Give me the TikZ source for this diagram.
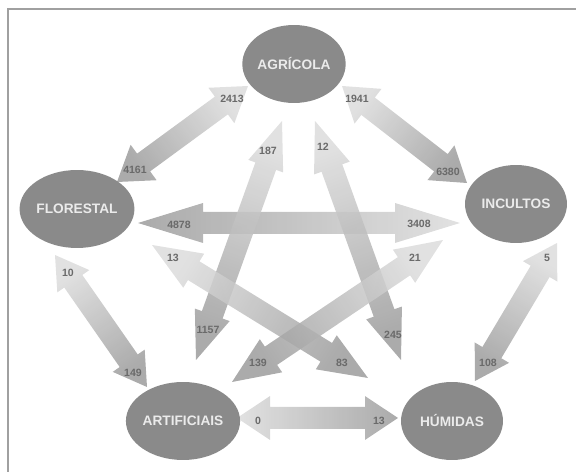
\documentclass[tikz,border=0pt]{standalone}
\usepackage{fontspec}
\setmainfont{Liberation Sans}
\usetikzlibrary{calc}
\usetikzlibrary{shapes.geometric}
\definecolor{cinzazona}{HTML}{8A8A8A}
\definecolor{fluxclaro}{HTML}{DCDCDC}
\definecolor{fluxescuro}{HTML}{9C9C9C}
\definecolor{cinzanum}{HTML}{6A6A6A}
\definecolor{cinzamoldura}{HTML}{A0A0A0}
% double arrow: light end, dark end, head length, head width (px)
\newcommand{\fluxo}[4]{%
  \pgfmathanglebetweenpoints{\pgfpointanchor{#1}{center}}{\pgfpointanchor{#2}{center}}%
  \pgfmathsetmacro{\fang}{\pgfmathresult-90}%
  \pgfmathsetlengthmacro{\hl}{#3*0.02cm}%
  \pgfmathsetlengthmacro{\hw}{#4*0.01cm}%
  \pgfmathsetlengthmacro{\sw}{11*0.02cm}%
  \shade[top color=fluxescuro, bottom color=fluxclaro, shading angle=\fang, fill opacity=0.85]
    (#1) -- ($(#1)!\hl!(#2)!\hw!90:(#2)$) -- ($(#1)!\hl!(#2)!\sw!90:(#2)$)
    -- ($(#2)!\hl!(#1)!\sw!-90:(#1)$) -- ($(#2)!\hl!(#1)!\hw!-90:(#1)$)
    -- (#2) -- ($(#2)!\hl!(#1)!\hw!90:(#1)$) -- ($(#2)!\hl!(#1)!\sw!90:(#1)$)
    -- ($(#1)!\hl!(#2)!\sw!-90:(#2)$) -- ($(#1)!\hl!(#2)!\hw!-90:(#2)$) -- cycle;%
}

\begin{document}
\begin{tikzpicture}[x=0.02cm, y=-0.02cm]
	\tikzstyle{zona}=[ellipse, fill=cinzazona, minimum width=2.04cm, minimum height=1.56cm, inner sep=0pt, text=white!92!black, font=\fontsize{7.8}{9}\selectfont\bfseries]
	\tikzstyle{num}=[inner sep=0pt, text=cinzanum, font=\fontsize{6}{7}\selectfont\bfseries]

	\useasboundingbox (0,0) rectangle (576,472);

	% Draw frame
	\draw[cinzamoldura, line width=1.1pt] (8,472) -- (8,9) -- (576,9);

	% Arrow tips (light end, dark end)
	\coordinate (agr-flo) at (248,86);  \coordinate (flo-agr) at (117,182);
	\coordinate (agr-inc) at (342,86);  \coordinate (inc-agr) at (467,183);
	\coordinate (inc-flo) at (460,223); \coordinate (flo-inc) at (138,223);
	\coordinate (agr-art) at (282,121); \coordinate (art-agr) at (196,360);
	\coordinate (agr-hum) at (315,121); \coordinate (hum-agr) at (401,360);
	\coordinate (flo-hum) at (152,245); \coordinate (hum-flo) at (368,378);
	\coordinate (inc-art) at (443,240); \coordinate (art-inc) at (232,382);
	\coordinate (flo-art) at (55,255);  \coordinate (art-flo) at (147,387);
	\coordinate (inc-hum) at (557,243); \coordinate (hum-inc) at (475,381);
	\coordinate (art-hum) at (237,418); \coordinate (hum-art) at (398,418);

	% Draw arrows
	\fluxo{agr-flo}{flo-agr}{33}{44}
	\fluxo{agr-inc}{inc-agr}{33}{44}
	\fluxo{inc-flo}{flo-inc}{65}{40}
	\fluxo{agr-art}{art-agr}{48}{37}
	\fluxo{agr-hum}{hum-agr}{50}{38}
	\fluxo{flo-hum}{hum-flo}{49}{40}
	\fluxo{inc-art}{art-inc}{47}{40}
	\fluxo{flo-art}{art-flo}{32}{39}
	\fluxo{inc-hum}{hum-inc}{33}{40}
	\fluxo{art-hum}{hum-art}{33}{44}

	% Draw land-use classes
	\node[zona] (agr) at (294,64) {AGRÍCOLA};
	\node[zona] (flo) at (77,209) {FLORESTAL};
	\node[zona] (inc) at (516,204) {INCULTOS};
	\node[zona] (art) at (183,421) {ARTIFICIAIS};
	\node[zona] (hum) at (452,421) {HÚMIDAS};

	% Draw numbers
	\node[num] (n-agr-flo) at (232,99) {2413};
	\node[num] (n-flo-agr) at (135,170) {4161};
	\node[num] (n-agr-inc) at (357,99) {1941};
	\node[num] (n-inc-agr) at (448,172) {6380};
	\node[num] (n-flo-inc) at (179,225) {4878};
	\node[num] (n-inc-flo) at (419,224) {3408};
	\node[num] (n-agr-art) at (268,151) {187};
	\node[num] (n-art-agr) at (208,330) {1157};
	\node[num] (n-agr-hum) at (323,147) {12};
	\node[num] (n-hum-agr) at (393,335) {245};
	\node[num] (n-flo-hum) at (173,258) {13};
	\node[num] (n-hum-flo) at (342,363) {83};
	\node[num] (n-inc-art) at (415,258) {21};
	\node[num] (n-art-inc) at (258,363) {139};
	\node[num] (n-flo-art) at (68,273) {10};
	\node[num] (n-art-flo) at (133,373) {149};
	\node[num] (n-inc-hum) at (547,258) {5};
	\node[num] (n-hum-inc) at (488,363) {108};
	\node[num] (n-art-hum) at (258,421) {0};
	\node[num] (n-hum-art) at (379,421) {13};

\end{tikzpicture}
\end{document}
